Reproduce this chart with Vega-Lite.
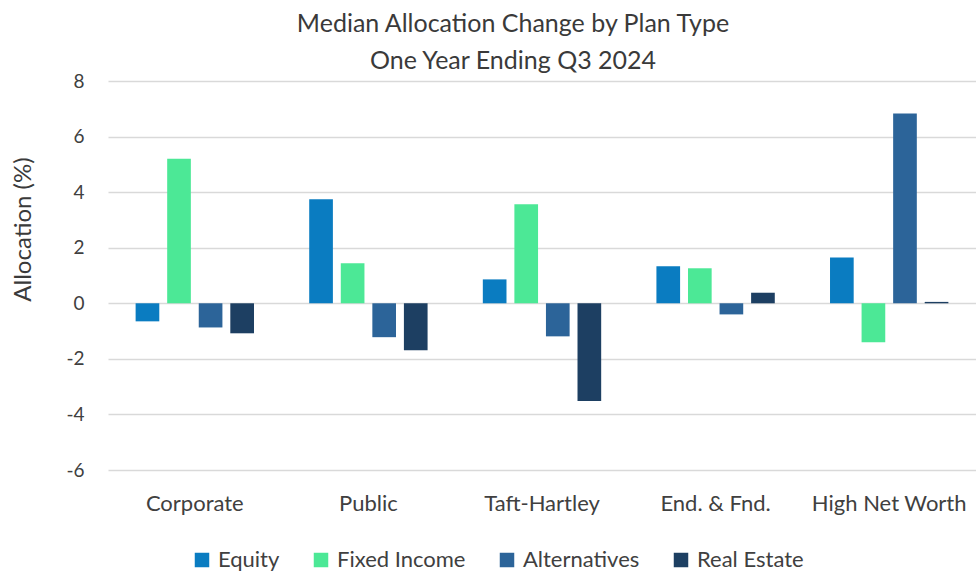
{
  "$schema": "https://vega.github.io/schema/vega-lite/v6.json",
  "autosize": {"type": "none"},
  "padding": {"left": 108, "top": 81, "right": 0, "bottom": 103},
  "width": 868,
  "height": 389,
  "background": "white",
  "title": {
    "text": ["Median Allocation Change by Plan Type", "One Year Ending Q3 2024"],
    "font": "Lato",
    "fontSize": 25,
    "fontWeight": "normal",
    "color": "#3a3a3a",
    "lineHeight": 37,
    "anchor": "middle",
    "dx": -29,
    "offset": -2
  },
  "data": {
    "values": [
      {"type": "Corporate", "asset": "Equity", "value": -0.65},
      {"type": "Corporate", "asset": "Fixed Income", "value": 5.2},
      {"type": "Corporate", "asset": "Alternatives", "value": -0.87},
      {"type": "Corporate", "asset": "Real Estate", "value": -1.08},
      {"type": "Public", "asset": "Equity", "value": 3.74},
      {"type": "Public", "asset": "Fixed Income", "value": 1.44},
      {"type": "Public", "asset": "Alternatives", "value": -1.22},
      {"type": "Public", "asset": "Real Estate", "value": -1.69},
      {"type": "Taft-Hartley", "asset": "Equity", "value": 0.86},
      {"type": "Taft-Hartley", "asset": "Fixed Income", "value": 3.56},
      {"type": "Taft-Hartley", "asset": "Alternatives", "value": -1.19},
      {"type": "Taft-Hartley", "asset": "Real Estate", "value": -3.52},
      {"type": "End. & Fnd.", "asset": "Equity", "value": 1.33},
      {"type": "End. & Fnd.", "asset": "Fixed Income", "value": 1.26},
      {"type": "End. & Fnd.", "asset": "Alternatives", "value": -0.4},
      {"type": "End. & Fnd.", "asset": "Real Estate", "value": 0.38},
      {"type": "High Net Worth", "asset": "Equity", "value": 1.65},
      {"type": "High Net Worth", "asset": "Fixed Income", "value": -1.4},
      {"type": "High Net Worth", "asset": "Alternatives", "value": 6.83},
      {"type": "High Net Worth", "asset": "Real Estate", "value": 0.05}
    ]
  },
  "mark": {"type": "bar"},
  "encoding": {
    "x": {
      "field": "type",
      "type": "nominal",
      "sort": ["Corporate", "Public", "Taft-Hartley", "End. & Fnd.", "High Net Worth"],
      "scale": {"paddingInner": 0, "paddingOuter": 0},
      "axis": {
        "title": null,
        "domain": false,
        "ticks": false,
        "grid": false,
        "labelAngle": 0,
        "labelFont": "Lato",
        "labelFontSize": 22,
        "labelColor": "#404040",
        "labelPadding": 23,
        "labelBaseline": "top",
        "labelOverlap": false
      }
    },
    "xOffset": {
      "field": "asset",
      "type": "nominal",
      "sort": ["Equity", "Fixed Income", "Alternatives", "Real Estate"],
      "scale": {"paddingInner": 0.25, "paddingOuter": 0.875}
    },
    "y": {
      "field": "value",
      "type": "quantitative",
      "scale": {"domain": [-6, 8], "nice": false, "zero": false},
      "axis": {
        "title": "Allocation (%)",
        "titleFont": "Lato",
        "titleFontSize": 24,
        "titleFontWeight": "normal",
        "titleColor": "#3a3a3a",
        "titleX": -85,
        "titleY": 148,
        "titleAngle": -90,
        "titleAlign": "center",
        "titleBaseline": "middle",
        "values": [-6, -4, -2, 0, 2, 4, 6, 8],
        "labelExpr": "datum.value < 0 ? '-' + abs(datum.value) : '' + datum.value",
        "domain": false,
        "ticks": false,
        "grid": true,
        "gridColor": "#d9d9d9",
        "gridWidth": 1.5,
        "labelFont": "Lato",
        "labelFontSize": 19,
        "labelColor": "#404040",
        "labelPadding": 24
      }
    },
    "color": {
      "field": "asset",
      "type": "nominal",
      "sort": ["Equity", "Fixed Income", "Alternatives", "Real Estate"],
      "scale": {
        "domain": ["Equity", "Fixed Income", "Alternatives", "Real Estate"],
        "range": ["#0a7cc1", "#4ce896", "#2c6499", "#1d3f62"]
      },
      "legend": {
        "title": null,
        "orient": "none",
        "direction": "horizontal",
        "legendX": 83,
        "legendY": 468,
        "symbolType": "square",
        "symbolSize": 210,
        "symbolStrokeWidth": 0,
        "labelFont": "Lato",
        "labelFontSize": 22,
        "labelColor": "#404040",
        "labelOffset": 5,
        "columnPadding": 30
      }
    }
  },
  "config": {"view": {"stroke": null}}
}
